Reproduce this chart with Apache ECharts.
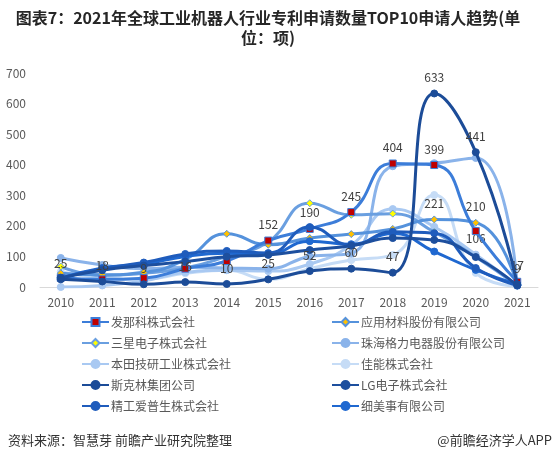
<!DOCTYPE html>
<html>
<head>
<meta charset="utf-8">
<script src="https://cdn.jsdelivr.net/npm/echarts@6/dist/echarts.min.js"></script>
<style>
    html, body {margin: 0; padding: 0; background: #fff;}
    #main {width: 554px; height: 463px;}
</style>
</head>
<body>
<div id="main"></div>
<script>
// 年份
var years = ['2010','2011','2012','2013','2014','2015','2016','2017','2018','2019','2020','2021'];
var yTicks = [0, 100, 200, 300, 400, 500, 600, 700];

// 各申请人专利数量
var fanuc   = [30, 25, 29, 60, 85, 152, 190, 245, 404, 399, 183, 17];
var applied = [45, 40, 48, 90, 174, 138, 160, 173, 190, 221, 210, 5];
var samsung = [67, 38, 45, 62, 100, 148, 274, 236, 240, 180, 98, 5];
var gree    = [95, 72, 60, 65, 62, 60, 100, 110, 395, 405, 422, 9];
var honda   = [0, 5, 20, 48, 55, 52, 75, 137, 255, 197, 106, 5];
var canon   = [50, 30, 25, 45, 55, 25, 60, 88, 105, 301, 46, 3];
var screen  = [25, 18, 9, 16, 10, 25, 52, 60, 47, 633, 441, 9];
var lg      = [30, 55, 70, 83, 99, 105, 121, 135, 160, 154, 98, 5];
var epson   = [30, 60, 80, 108, 118, 111, 196, 137, 181, 176, 62, 5];
var semes   = [28, 62, 75, 100, 110, 108, 150, 140, 175, 116, 56, 8];

// 显示数据标签的点
var fanucLabelIdx   = [5, 6, 7, 8, 9, 11];
var appliedLabelIdx = [9, 10];
var hondaLabelIdx   = [10];
var screenLabelIdx  = [0, 1, 2, 3, 4, 5, 6, 7, 8, 9, 10, 11];

function withLabels(arr, idx) {
    return arr.map(function (v, i) {
        if (idx.indexOf(i) >= 0) {
            return {value: v, label: {show: true}};
        }
        return v;
    });
}

function mkSeries(name, data, color, symbol, symColor, symSize, z) {
    return {
        name: name,
        type: 'line',
        smooth: 0.5,
        data: data,
        symbol: symbol,
        symbolSize: symSize,
        z: z,
        lineStyle: {color: color, width: 3},
        itemStyle: {color: symColor, borderColor: color, borderWidth: 1},
        label: {
            show: false,
            position: 'top',
            distance: 6,
            color: '#404040',
            fontSize: 12,
            fontFamily: 'Noto Sans CJK SC'
        },
        emphasis: {disabled: true}
    };
}

var legendText = {color: '#595959', fontSize: 12, padding: [0, 0, 0, -3]};

var myChart = echarts.init(document.getElementById('main'));
var option = {
    animation: false,
    textStyle: {fontFamily: 'Noto Sans CJK SC'},
    grid: {left: 40, right: 16, top: 73, bottom: 176},
    xAxis: {
        type: 'category',
        data: years,
        boundaryGap: true,
        axisLine: {lineStyle: {color: '#d9d9d9', width: 1}},
        axisTick: {show: false},
        axisLabel: {color: '#595959', fontSize: 12, margin: 9}
    },
    yAxis: {
        type: 'value',
        min: yTicks[0],
        max: yTicks[yTicks.length - 1],
        interval: 100,
        splitLine: {show: false},
        axisLine: {show: false},
        axisTick: {show: false},
        axisLabel: {color: '#595959', fontSize: 12, margin: 14}
    },
    legend: [
        {
            orient: 'vertical',
            left: 76,
            top: 311,
            itemWidth: 27,
            itemHeight: 10,
            itemGap: 9,
            textStyle: legendText,
            data: ['发那科株式会社', '三星电子株式会社', '本田技研工业株式会社', '斯克林集团公司', '精工爱普生株式会社']
        },
        {
            orient: 'vertical',
            left: 326,
            top: 311,
            itemWidth: 27,
            itemHeight: 10,
            itemGap: 9,
            textStyle: legendText,
            data: ['应用材料股份有限公司', '珠海格力电器股份有限公司', '佳能株式会社', 'LG电子株式会社', '细美事有限公司']
        }
    ],
    graphic: [
        {
            type: 'text', x: 268, y: 10,
            style: {text: '图表7：2021年全球工业机器人行业专利申请数量TOP10申请人趋势(单', align: 'center',
                fill: '#262626', fontSize: 16, fontWeight: 'bold', fontFamily: 'Noto Sans CJK SC'}
        },
        {
            type: 'text', x: 268, y: 30,
            style: {text: '位：项)', align: 'center',
                fill: '#262626', fontSize: 16, fontWeight: 'bold', fontFamily: 'Noto Sans CJK SC'}
        },
        {
            type: 'text', left: 8, top: 434,
            style: {text: '资料来源：智慧芽 前瞻产业研究院整理', fill: '#333', fontSize: 13, fontFamily: 'Noto Sans CJK SC'}
        },
        {
            type: 'text', right: 2, top: 434,
            style: {text: '@前瞻经济学人APP', fill: '#333', fontSize: 13, fontFamily: 'Noto Sans CJK SC'}
        }
    ],
    series: [
        mkSeries('佳能株式会社', canon, '#c6dcf6', 'circle', '#c6dcf6', 7, 1),
        mkSeries('本田技研工业株式会社', withLabels(honda, hondaLabelIdx), '#a9c9f2', 'circle', '#a9c9f2', 7, 2),
        mkSeries('珠海格力电器股份有限公司', gree, '#8ab3ea', 'circle', '#8ab3ea', 7, 3),
        mkSeries('三星电子株式会社', samsung, '#6a9fe0', 'diamond', '#ffff00', 7, 4),
        mkSeries('应用材料股份有限公司', withLabels(applied, appliedLabelIdx), '#5592dc', 'diamond', '#ffc000', 7, 5),
        mkSeries('发那科株式会社', withLabels(fanuc, fanucLabelIdx), '#3c7dd9', 'rect', '#c00000', 7, 6),
        mkSeries('细美事有限公司', semes, '#1f68d0', 'circle', '#1f68d0', 7, 7),
        mkSeries('精工爱普生株式会社', epson, '#1f5cbc', 'circle', '#1f5cbc', 7, 8),
        mkSeries('LG电子株式会社', lg, '#1d4f9e', 'circle', '#1d4f9e', 7, 9),
        mkSeries('斯克林集团公司', withLabels(screen, screenLabelIdx), '#1c4c98', 'circle', '#1c4c98', 7, 10)
    ]
};
myChart.setOption(option);
</script>
</body>
</html>
